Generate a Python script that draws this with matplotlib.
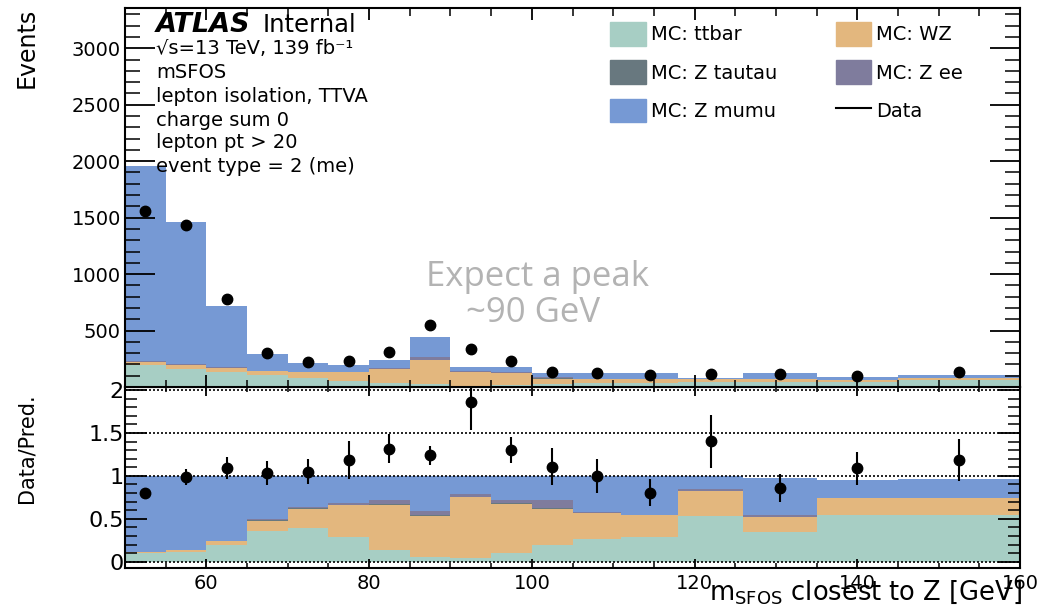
import numpy as np
import matplotlib
matplotlib.use("Agg")
import matplotlib.pyplot as plt
from matplotlib.lines import Line2D
from matplotlib.patches import Patch
from matplotlib.ticker import MultipleLocator, FixedLocator, FormatStrFormatter

plt.rcParams['font.family'] = ['DejaVu Sans']

# binning in m_SFOS [GeV]
edges = [50, 55, 60, 65, 70, 75, 80, 85, 90, 95, 100, 105, 111, 118, 126, 135, 145, 160]

# total prediction and data per bin
mc_total = [1960, 1460, 715, 290, 209, 195, 236, 446, 180, 180, 120, 125, 128, 84, 130, 89, 110]
data = [1563, 1439, 779, 299, 219, 231, 311, 553, 335, 234, 133, 125, 103, 118, 112, 97, 130]
ratio_err = [0.05, 0.09, 0.13, 0.14, 0.145, 0.22, 0.17, 0.11, 0.33, 0.155, 0.22, 0.20, 0.155, 0.31, 0.165, 0.19, 0.245]

# fraction of the prediction in each sample
frac_ttbar   = [0.10, 0.11, 0.19, 0.36, 0.39, 0.29, 0.14, 0.05, 0.04, 0.10, 0.20, 0.27, 0.29, 0.53, 0.35, 0.54, 0.54]
frac_wz      = [0.015, 0.025, 0.05, 0.12, 0.23, 0.37, 0.52, 0.48, 0.71, 0.57, 0.41, 0.30, 0.25, 0.30, 0.17, 0.20, 0.20]
frac_ztautau = [0.0, 0.0, 0.0, 0.005, 0.005, 0.005, 0.01, 0.01, 0.01, 0.01, 0.02, 0.0, 0.0, 0.0, 0.0, 0.0, 0.0]
frac_zee     = [0.004, 0.005, 0.005, 0.015, 0.01, 0.015, 0.05, 0.05, 0.03, 0.04, 0.09, 0.005, 0.0, 0.02, 0.02, 0.0, 0.0]
frac_zmumu   = [0.881, 0.86, 0.755, 0.50, 0.365, 0.32, 0.28, 0.41, 0.21, 0.28, 0.28, 0.425, 0.46, 0.15, 0.44, 0.215, 0.225]

samples = ["MC: ttbar", "MC: WZ", "MC: Z tautau", "MC: Z ee", "MC: Z mumu"]
colors = ["#a7cec4", "#e3b77e", "#68787f", "#7f7c9d", "#7699d4"]
fracs = [frac_ttbar, frac_wz, frac_ztautau, frac_zee, frac_zmumu]

edges = np.array(edges, dtype=float)
mc_total = np.array(mc_total, dtype=float)
data = np.array(data, dtype=float)
centers = 0.5*(edges[:-1]+edges[1:])

W, H = 1037, 606
fig = plt.figure(figsize=(W/100, H/100), dpi=100)
L, R = 125/W, 1020/W
ax_r = fig.add_axes([L, 1-568/H, R-L, (568-387)/H])
ax = fig.add_axes([L, 1-387/H, R-L, (387-8)/H])

# stacked histograms
bottom = np.zeros(len(mc_total))
bottom_r = np.zeros(len(mc_total))
for frac, c in zip(fracs, colors):
    frac = np.array(frac)
    vals = mc_total*frac
    ax.stairs(bottom+vals, edges, baseline=bottom.copy(), fill=True, color=c, lw=0)
    ax_r.stairs(bottom_r+frac, edges, baseline=bottom_r.copy(), fill=True, color=c, lw=0)
    bottom += vals
    bottom_r += frac

ax.plot(centers, data, 'o', color='k', ms=7.5, zorder=5)
ax_r.errorbar(centers, data/mc_total, yerr=ratio_err, fmt='o', color='k', ms=7.5,
              elinewidth=1.5, capsize=0, zorder=5)
for y in [0, 1, 1.5, 2]:
    ax_r.axhline(y, color='k', ls=(0, (1.2, 1.2)), lw=1.2, zorder=3)

# main panel axes
ax.set_xlim(50, 160)
ax.set_ylim(0, 3357)
ax.yaxis.set_major_locator(FixedLocator(np.arange(500, 3001, 500)))
ax.yaxis.set_minor_locator(MultipleLocator(100))
ax.xaxis.set_major_locator(MultipleLocator(20))
ax.xaxis.set_minor_locator(MultipleLocator(5))
ax.tick_params(which='both', direction='in', top=True, right=True, labelbottom=False)
ax.tick_params(axis='y', which='major', length=21.6, width=1.3, labelsize=14, pad=3)
ax.tick_params(axis='y', which='minor', length=10.8, width=1.1)
ax.tick_params(axis='x', which='major', length=8.6, width=1.3)
ax.tick_params(axis='x', which='minor', length=5.4, width=1.1)
for s in ax.spines.values():
    s.set_linewidth(1.5)

# ratio panel axes
ax_r.set_xlim(50, 160)
ax_r.set_ylim(-0.073, 2.036)
ax_r.yaxis.set_major_locator(FixedLocator([0, 0.5, 1, 1.5, 2]))
ax_r.yaxis.set_minor_locator(MultipleLocator(0.1))
ax_r.yaxis.set_major_formatter(FormatStrFormatter('%g'))
ax_r.xaxis.set_major_locator(MultipleLocator(20))
ax_r.xaxis.set_minor_locator(MultipleLocator(5))
ax_r.tick_params(which='both', direction='in', top=True, right=True)
ax_r.tick_params(axis='y', which='major', length=16, width=1.3, labelsize=16, pad=1)
ax_r.tick_params(axis='y', which='minor', length=8.6, width=1.1)
ax_r.tick_params(axis='x', which='major', length=6.5, width=1.3, labelsize=14, pad=4)
ax_r.tick_params(axis='x', which='minor', length=3.6, width=1.1)
for s in ax_r.spines.values():
    s.set_linewidth(1.5)

# axis titles
fig.text(27/W, 1-8/H, "Events", rotation=90, ha='center', va='top', fontsize=17)
fig.text(27/W, 1-448/H, "Data/Pred.", rotation=90, ha='center', va='center', fontsize=15)
fig.text(1022/W, 1-599/H, r"m$_{\mathrm{SFOS}}$ closest to Z [GeV]", ha='right', va='baseline', fontsize=18.5)

# legend
handles = [Patch(color=colors[0], label=samples[0]),
           Patch(color=colors[2], label=samples[2]),
           Patch(color=colors[4], label=samples[4]),
           Patch(color=colors[1], label=samples[1]),
           Patch(color=colors[3], label=samples[3]),
           Line2D([], [], color='k', lw=1.5, label="Data")]
ax.legend(handles=handles, ncol=2, loc='upper left', bbox_to_anchor=(0.542, 0.963),
          frameon=False, fontsize=14, handlelength=1.85, handleheight=1.5,
          handletextpad=0.25, columnspacing=3.0, labelspacing=0.75,
          borderpad=0, borderaxespad=0)

# ATLAS label and selection
x0 = 156/W
fig.text(x0, 1-25/H, "ATLAS", fontsize=19.5, fontweight='bold', fontstyle='italic', va='center')
fig.text(263/W, 1-25/H, "Internal", fontsize=17.5, va='center')
lines = ["\u221As=13 TeV, 139 fb\u207B\u00B9", "mSFOS", "lepton isolation, TTVA",
         "charge sum 0", "lepton pt > 20", "event type = 2 (me)"]
ys = [48, 72, 97, 120, 143, 167]
for t, y in zip(lines, ys):
    fig.text(x0, 1-y/H, t, fontsize=14, va='center')

# annotation
fig.text(537/W, 1-277/H, "Expect a peak", fontsize=25, color='#b3b3b3',
         family='Open Sans', ha='center', va='center')
fig.text(533/W, 1-313/H, "~90 GeV", fontsize=25, color='#b3b3b3',
         family='Open Sans', ha='center', va='center')

fig.savefig("out.png", dpi=100)
